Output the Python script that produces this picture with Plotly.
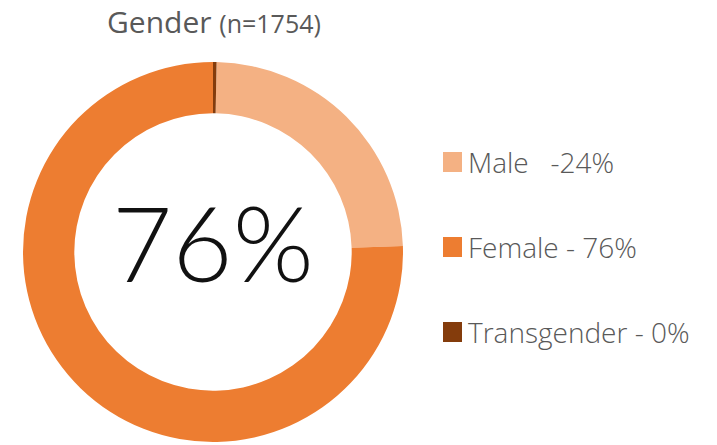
import plotly.graph_objects as go

# Gender split of respondents
categories = ["Male", "Female", "Transgender"]
shares = [24.2, 75.5, 0.3]
legend_labels = ["Male   -24%", "Female - 76%", "Transgender - 0%"]
colors = ["#F4B183", "#ED7D31", "#843C0C"]
center_label = "76%"
sample_size = 1754

W, H = 717, 445
cx, cy, r = 213, 252, 190  # donut centre and outer radius in px

total = sum(shares)
fig = go.Figure(
    go.Pie(
        labels=categories,
        values=shares,
        hole=0.73,
        sort=False,
        direction="clockwise",
        rotation=360 * shares[2] / total,
        marker=dict(colors=colors, line=dict(width=0)),
        textinfo="none",
        hoverinfo="label+percent",
        showlegend=False,
        domain=dict(
            x=[(cx - r) / W, (cx + r) / W],
            y=[(H - cy - r) / H, (H - cy + r) / H],
        ),
    )
)

grey = "#595959"
font_family = "'Open Sans', Lato, sans-serif"
center_family = "Lato, 'Noto Sans', sans-serif"

annotations = [
    dict(
        x=214 / W, y=1, xref="paper", yref="paper",
        xanchor="center", yanchor="top", borderpad=0,
        text=f"Gender <span style='font-size:25px'>(n={sample_size})</span>",
        showarrow=False, font=dict(family=font_family, size=30, color=grey, weight=400),
    ),
    dict(
        x=cx / W, y=1 - 241 / H, xref="paper", yref="paper",
        xanchor="center", yanchor="middle",
        text=center_label, showarrow=False,
        font=dict(family=center_family, size=104, color="#111111", weight=300),
    ),
]

shapes = []
row_y = [162, 247, 332]
for label, color, yc in zip(legend_labels, colors, row_y):
    shapes.append(dict(
        type="rect", xref="paper", yref="paper",
        x0=443 / W, x1=462 / W, y0=1 - (yc + 10) / H, y1=1 - (yc - 10) / H,
        fillcolor=color, line=dict(width=0),
    ))
    annotations.append(dict(
        x=466 / W, y=1 - yc / H, xref="paper", yref="paper",
        xanchor="left", yanchor="middle", text=label, showarrow=False,
        font=dict(family=font_family, size=28, color=grey, weight=300),
    ))

fig.update_layout(
    width=W, height=H,
    margin=dict(l=0, r=0, t=0, b=0),
    paper_bgcolor="white", plot_bgcolor="white",
    annotations=annotations, shapes=shapes,
)

fig.write_html("out.html")
